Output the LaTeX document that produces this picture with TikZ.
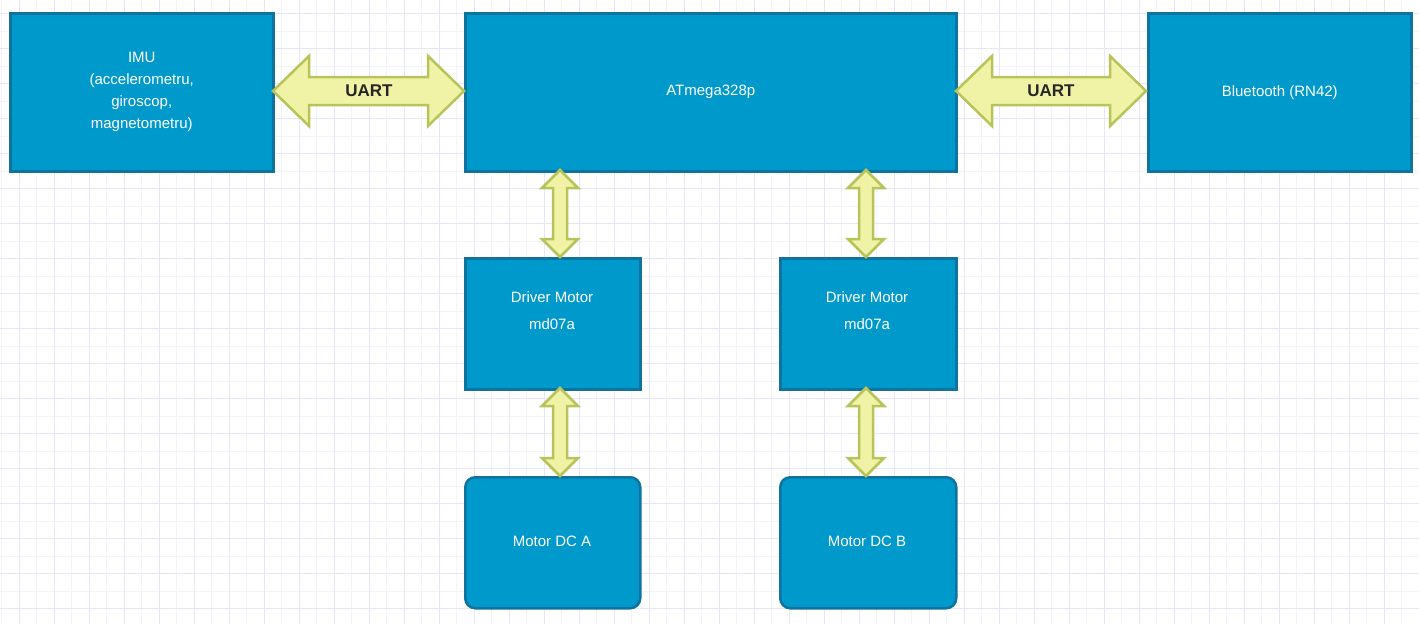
\documentclass[tikz,border=0pt]{standalone}
\usepackage{fontspec}
\setmainfont{Liberation Sans}
\definecolor{bfill}{HTML}{0099CC}
\definecolor{bline}{HTML}{10739E}
\definecolor{afill}{HTML}{F0F2A6}
\definecolor{aline}{HTML}{B8C45A}
\definecolor{gmaj}{HTML}{E6E6F8}
\definecolor{gmin}{HTML}{F3F3F8}
\newcommand\harrow[5]{% x1 x2 y shaftHalf headHalf (head length 36)
\filldraw[arr] (#1,#3) -- (#1+36,#3-#5) -- (#1+36,#3-#4) -- (#2-36,#3-#4) -- (#2-36,#3-#5) -- (#2,#3)
 -- (#2-36,#3+#5) -- (#2-36,#3+#4) -- (#1+36,#3+#4) -- (#1+36,#3+#5) -- cycle;}
\newcommand\varrow[3]{% x y1 y2
\filldraw[arr] (#1,#2) -- (#1+18,#2+18) -- (#1+7,#2+18) -- (#1+7,#3-18) -- (#1+18,#3-18) -- (#1,#3)
 -- (#1-18,#3-18) -- (#1-7,#3-18) -- (#1-7,#2+18) -- (#1-18,#2+18) -- cycle;}
\begin{document}
\begin{tikzpicture}[x=1pt,y=-1pt,
 box/.style={draw=bline,fill=bfill,line width=2.5pt,text=white,font=\fontsize{15}{22}\selectfont,align=center,anchor=north west,inner sep=0pt},
 arr/.style={draw=aline,fill=afill,line width=2.5pt,line join=miter},
 lab/.style={font=\bfseries\fontsize{17}{20}\selectfont,text=black!85}]
\useasboundingbox (0,0) rectangle (1419,624);
\fill[white] (0,0) rectangle (1419,624);
\foreach \i in {0,...,82} {\draw[gmin,line width=0.7pt] (\i*17.5+1.5,0) -- (\i*17.5+1.5,624);}
\foreach \i in {0,...,36} {\draw[gmin,line width=0.7pt] (0,\i*17.5+13.7) -- (1419,\i*17.5+13.7);}
\foreach \i in {0,...,41} {\draw[gmaj,line width=0.8pt] (\i*35+19,0) -- (\i*35+19,624);}
\foreach \i in {0,...,18} {\draw[gmaj,line width=0.8pt] (0,\i*35+13.7) -- (1419,\i*35+13.7);}
\node[box,minimum width=263,minimum height=158] (imu) at (9,12) {IMU\\(accelerometru,\\giroscop,\\magnetometru)};
\node[box,minimum width=491,minimum height=158] (mcu) at (464,12) {ATmega328p};
\node[box,minimum width=263,minimum height=158] (bt) at (1147,12) {Bluetooth (RN42)};
\node[box,minimum width=175,minimum height=131] (d1) at (464,257) {};
\node[box,minimum width=176,minimum height=131] (d2) at (779,257) {};
\node[font=\fontsize{15}{27}\selectfont,text=white,align=center] at (552,311) {Driver Motor\\md07a};
\node[font=\fontsize{15}{27}\selectfont,text=white,align=center] at (867,311) {Driver Motor\\md07a};
\node[box,rounded corners=10pt,minimum width=175,minimum height=131] (m1) at (464,476) {};
\node[box,rounded corners=10pt,minimum width=176,minimum height=131] (m2) at (779,476) {};
\node[text=white,font=\fontsize{15}{22}\selectfont] at (552,541) {Motor DC A};
\node[text=white,font=\fontsize{15}{22}\selectfont] at (867,541) {Motor DC B};
\harrow{273}{464}{91}{14}{35}
\node[lab] (u1) at (369,91) {UART};
\harrow{956}{1146}{91}{14}{35}
\node[lab] (u2) at (1051,91) {UART};
\varrow{560}{170}{257}
\varrow{866}{170}{257}
\varrow{560}{388}{476}
\varrow{866}{388}{476}
\end{tikzpicture}
\end{document}
